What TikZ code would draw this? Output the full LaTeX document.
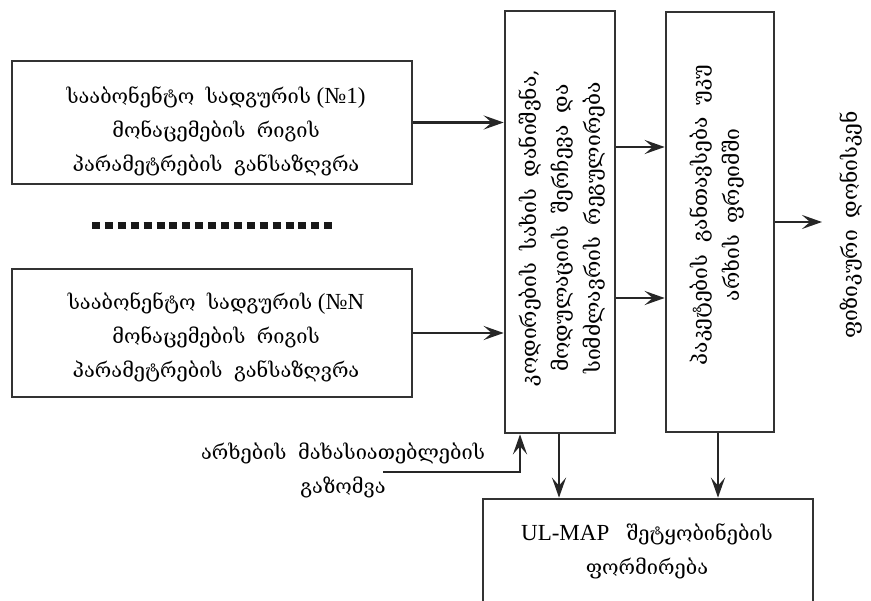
\documentclass[tikz,border=0pt]{standalone}
\usepackage{fontspec}
\setmainfont[Scale=1.15]{Liberation Serif}
\newfontfamily\geo[WordSpace=1.8]{DejaVu Serif}
\usetikzlibrary{arrows.meta,calc}
\begin{document}
\begin{tikzpicture}[x=1pt,y=-1pt,
  blk/.style={draw=black!80,line width=2.6pt,fill=white,inner sep=0pt},
  txt/.style={align=center,font=\fontsize{20}{34}\selectfont,inner sep=0pt},
  rtxt/.style={align=center,font=\fontsize{21}{32}\selectfont,inner sep=0pt,rotate=90},
  arr/.style={draw=black!85,line width=2.6pt,-{Stealth[length=20pt,width=14pt,inset=8pt]}}]
\useasboundingbox (0,0) rectangle (871,601);

% input blocks
\node[blk,minimum width=400pt,minimum height=123pt] (b1) at (212,122.5) {};
\node[txt] (t1) at (216,131) {{\geo სააბონენტო სადგურის} (№1)\\{\geo მონაცემების რიგის}\\{\geo პარამეტრების განსაზღვრა}};
\node[blk,minimum width=400pt,minimum height=128pt] (bn) at (212,333) {};
\node[txt] (tn) at (216,337) {{\geo სააბონენტო სადგურის} (№N\\{\geo მონაცემების რიგის}\\{\geo პარამეტრების განსაზღვრა}};

% separator between the input blocks
\coordinate (dl) at (92,226);
\coordinate (dr) at (332,226);
\draw[line width=7pt,black!90,dash pattern=on 8pt off 4.9pt] (dl) -- (dr);

% processing blocks
\node[blk,minimum width=110pt,minimum height=422pt] (mid) at (560,222) {};
\node[rtxt] (tm) at (562,228) {\geo კოდირების სახის დანიშვნა,\\\geo მოდულაციის შერჩევა და\\\geo სიმძლავრის რეგულირება};
\node[blk,minimum width=108pt,minimum height=420pt] (pk) at (720,222) {};
\node[rtxt] (tp) at (717,215) {\geo პაკეტების განთავსება უკუ\\\geo არხის ფრეიმში};
\node[blk,minimum width=330pt,minimum height=122pt] (bot) at (648,560) {};
\node[txt] (tb) at (647,551) {UL-MAP\ \ \ {\geo შეტყობინების}\\{\geo ფორმირება}};

% output label
\node[rtxt] (phys) at (851,225) {\geo ფიზიკური დონისკენ};
\coordinate (out) at (822,222);

% measurement label
\node[txt] (meas) at (343,470) {\geo არხების მახასიათებლების\\\geo გაზომვა};
\coordinate (ms) at (383,472);

% connectors
\coordinate (ya) at (0,147);
\coordinate (yb) at (0,298);
\coordinate (xa) at (520,0);
\coordinate (xb) at (559,0);
\coordinate (xc) at (718,0);
\draw[arr] (b1.east) -- (mid.west |- b1.east);
\draw[arr] (bn.east) -- (mid.west |- bn.east);
\draw[arr] (mid.east |- ya) -- (pk.west |- ya);
\draw[arr] (mid.east |- yb) -- (pk.west |- yb);
\draw[arr] (pk.east |- out) -- (out);
\draw[arr] (ms) -| (mid.south -| xa);
\draw[arr] (mid.south -| xb) -- (bot.north -| xb);
\draw[arr] (pk.south -| xc) -- (bot.north -| xc);
\end{tikzpicture}
\end{document}
